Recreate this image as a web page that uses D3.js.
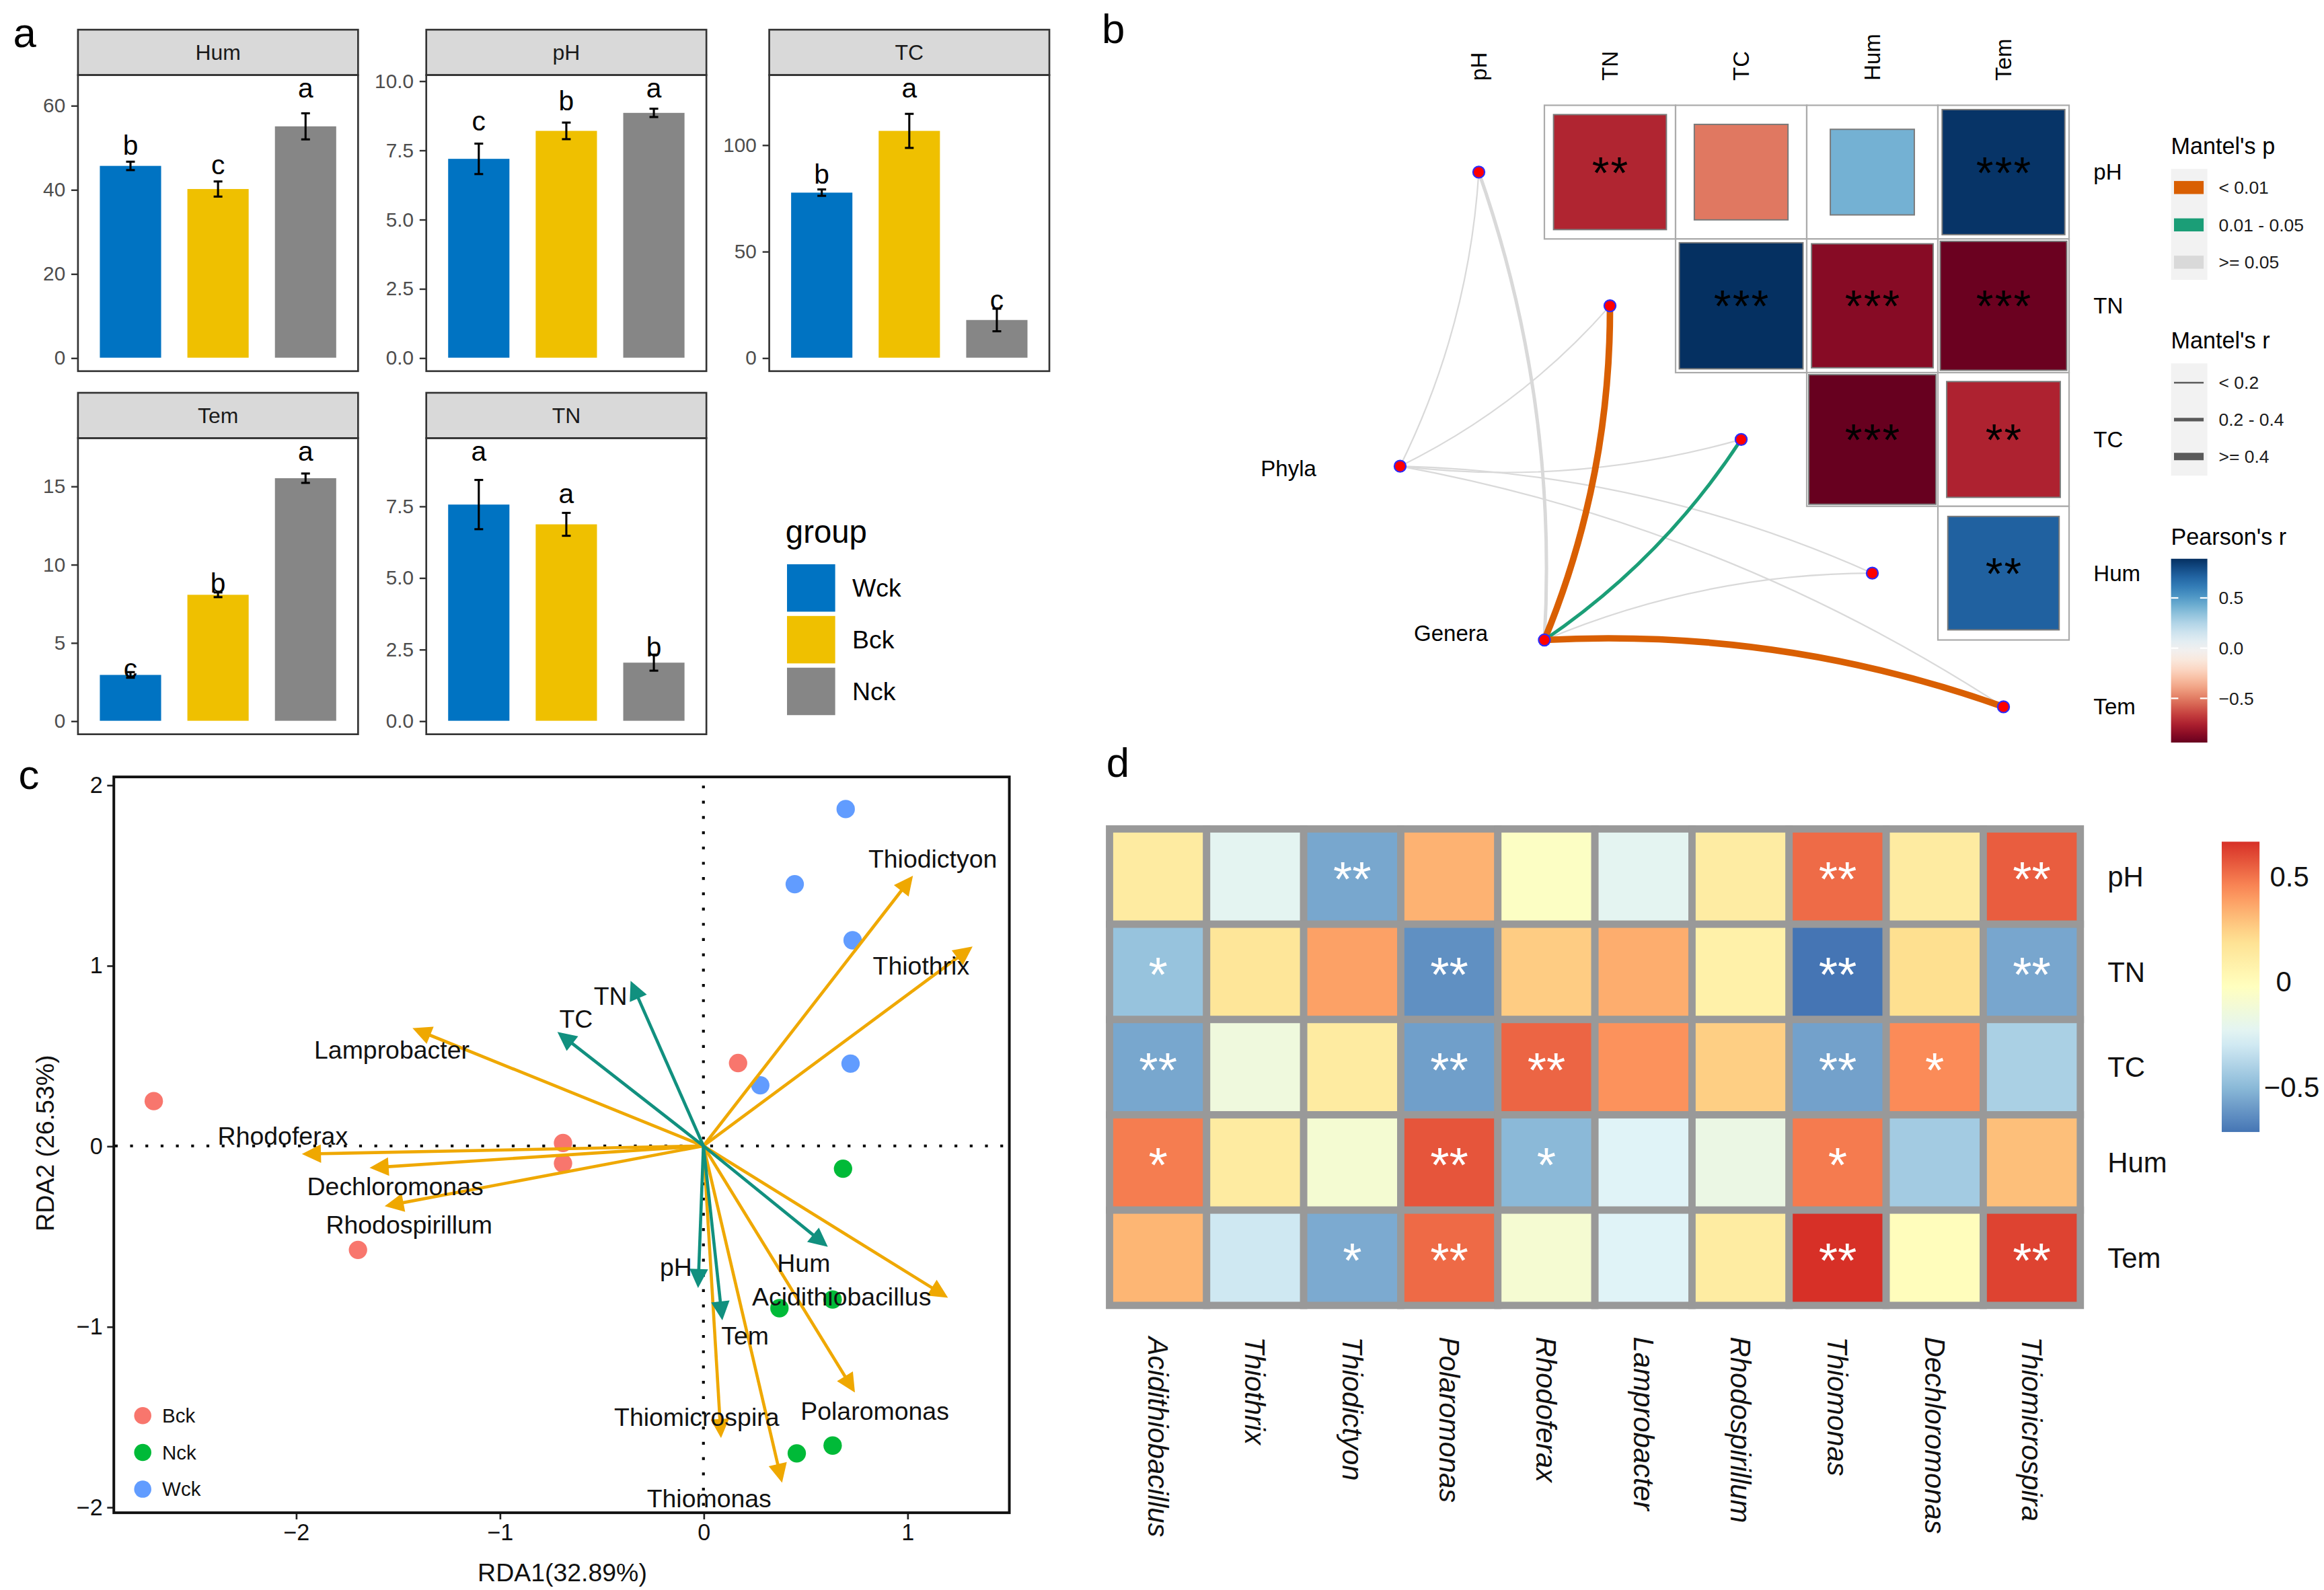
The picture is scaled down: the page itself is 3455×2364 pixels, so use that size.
<!DOCTYPE html>
<html>
<head>
<meta charset="utf-8">
<script src="https://cdn.jsdelivr.net/npm/d3@7"></script>
<style>
  html, body { margin: 0; padding: 0; background: #fff; }
  svg { display: block; font-family: "Liberation Sans", Arial, Helvetica, sans-serif; }
</style>
</head>
<body>
<svg id="fig" width="3455" height="2364" viewBox="0 0 1568 1072.8"></svg>
<script>
// ---------------- data ----------------
// panel a: group means, sd and letters for each soil variable
const groups = ["Wck", "Bck", "Nck"]
const groupColors = ["#0073C2", "#EFC000", "#868686"]
const facetNames = ["Hum", "pH", "TC", "Tem", "TN"]
const humMean = [45.6, 40.1, 55.0], humSd = [1.0, 1.8, 3.1], humLetter = ["b", "c", "a"], humLetterY = [48.3, 43.6, 61.8]
const phMean = [7.18, 8.19, 8.84], phSd = [0.55, 0.3, 0.15], phLetter = ["c", "b", "a"], phLetterY = [8.2, 8.94, 9.4]
const tcMean = [77.5, 106.5, 17.7], tcSd = [1.5, 8.0, 5.3], tcLetter = ["b", "a", "c"], tcLetterY = [81.6, 122.2, 22.8]
const temMean = [2.93, 8.05, 15.5], temSd = [0.18, 0.15, 0.3], temLetter = ["c", "b", "a"], temLetterY = [2.75, 8.2, 16.6]
const tnMean = [7.55, 6.86, 2.03], tnSd = [0.86, 0.4, 0.28], tnLetter = ["a", "a", "b"], tnLetterY = [9.07, 7.6, 2.25]
const facetTicks = [[0, 20, 40, 60], [0, 2.5, 5, 7.5, 10], [0, 50, 100], [0, 5, 10, 15], [0, 2.5, 5, 7.5]]
const facetTop = [64, 9.72, 126.4, 17.2, 9.4]

// panel b: pearson correlations between env variables + mantel links
const envVars = ["pH", "TN", "TC", "Hum", "Tem"]
const corrRow = ["pH", "pH", "pH", "pH", "TN", "TN", "TN", "TC", "TC", "Hum"]
const corrCol = ["TN", "TC", "Hum", "Tem", "TC", "Hum", "Tem", "Hum", "Tem", "Tem"]
const corrR = [-0.74, -0.51, 0.41, 0.875, 0.89, -0.86, -0.93, -0.94, -0.75, 0.72]
const corrStars = ["**", "", "", "***", "***", "***", "***", "***", "**", "**"]
const specNames = ["Phyla", "Genera"]
const specGridX = [-0.1, 1.0]
const specGridY = [2.7, 4.0]
const linkSpec = ["Phyla", "Phyla", "Phyla", "Phyla", "Phyla", "Genera", "Genera", "Genera", "Genera", "Genera"]
const linkEnv = ["pH", "TN", "TC", "Hum", "Tem", "pH", "TN", "TC", "Hum", "Tem"]
const linkR = ["< 0.2", "< 0.2", "< 0.2", "< 0.2", "< 0.2", "0.2 - 0.4", ">= 0.4", "0.2 - 0.4", "< 0.2", ">= 0.4"]
const linkP = [">= 0.05", ">= 0.05", ">= 0.05", ">= 0.05", ">= 0.05", ">= 0.05", "< 0.01", "0.01 - 0.05", ">= 0.05", "< 0.01"]
const linkBend = [1, 1, 1, -1, -1, 1, 1, 1, -1, -1]
const pLevels = ["< 0.01", "0.01 - 0.05", ">= 0.05"]
const rLevels = ["< 0.2", "0.2 - 0.4", ">= 0.4"]

// panel c: RDA scores
const bckRDA1 = [-2.697, -0.689, -0.689, -1.695, 0.170], bckRDA2 = [0.248, 0.016, -0.097, -0.576, 0.459]
const nckRDA1 = [0.685, 0.634, 0.373, 0.458, 0.634], nckRDA2 = [-0.126, -0.851, -0.899, -1.703, -1.660]
const wckRDA1 = [0.698, 0.448, 0.732, 0.722, 0.279], wckRDA2 = [1.866, 1.450, 1.139, 0.456, 0.336]
const species = ["Thiodictyon", "Thiothrix", "Lamprobacter", "Rhodoferax", "Dechloromonas", "Rhodospirillum", "Acidithiobacillus", "Polaromonas", "Thiomicrospira", "Thiomonas"]
const speciesRDA1 = [1.023, 1.314, -1.420, -1.962, -1.630, -1.556, 1.193, 0.739, 0.086, 0.384]
const speciesRDA2 = [1.489, 1.099, 0.649, -0.045, -0.121, -0.332, -0.836, -1.358, -1.609, -1.857]
const speciesLabX = [1.125, 1.068, -1.529, -2.064, -1.512, -1.444, 0.678, 0.841, -0.033, 0.028]
const speciesLabY = [1.591, 0.997, 0.534, 0.054, -0.226, -0.438, -0.836, -1.470, -1.503, -1.953]
const envArrows = ["TN", "TC", "Hum", "pH", "Tem"]
const envRDA1 = [-0.354, -0.710, 0.604, -0.026, 0.092]
const envRDA2 = [0.906, 0.626, -0.553, -0.778, -0.957]
const envLabX = [-0.456, -0.625, 0.492, -0.135, 0.204]
const envLabY = [0.831, 0.704, -0.649, -0.673, -1.051]

// panel d: correlation heatmap genera x env
const hmGenera = ["Acidithiobacillus", "Thiothrix", "Thiodictyon", "Polaromonas", "Rhodoferax", "Lamprobacter", "Rhodospirillum", "Thiomonas", "Dechloromonas", "Thiomicrospira"]
const hmEnv = ["pH", "TN", "TC", "Hum", "Tem"]
const hmPH = [0.125, -0.226, -0.559, 0.332, -0.045, -0.226, 0.114, 0.520, 0.125, 0.554]
const hmTN = [-0.465, 0.164, 0.381, -0.630, 0.261, 0.346, 0.082, -0.713, 0.206, -0.560]
const hmTC = [-0.558, -0.144, 0.125, -0.582, 0.534, 0.422, 0.254, -0.575, 0.440, -0.410]
const hmHum = [0.476, 0.125, -0.102, 0.573, -0.502, -0.250, -0.174, 0.480, -0.430, 0.296]
const hmTem = [0.321, -0.302, -0.548, 0.522, -0.100, -0.250, 0.118, 0.665, -0.010, 0.619]
const starPH = ["", "", "**", "", "", "", "", "**", "", "**"]
const starTN = ["*", "", "", "**", "", "", "", "**", "", "**"]
const starTC = ["**", "", "", "**", "**", "", "", "**", "*", ""]
const starHum = ["*", "", "", "**", "*", "", "", "*", "", ""]
const starTem = ["", "", "*", "**", "", "", "", "**", "", "**"]

// ---------------- drawing ----------------
const svg = d3.select("#fig")
const defs = svg.append("defs")
const minus = d => (d < 0 ? "\u2212" + Math.abs(d) : "" + d)

// panel letters
svg.selectAll("text.plab")
  .data([["a", 8.8, 31.7], ["b", 743.4, 28.8], ["c", 12.5, 532.3], ["d", 746.5, 524.2]])
  .enter().append("text")
  .attr("x", d => d[1]).attr("y", d => d[2])
  .attr("font-size", 28).attr("fill", "#000")
  .text(d => d[0])

// ===== panel a =====
const facetLeft = [52.6, 287.6, 519, 52.6, 287.6]
const facetY0 = [50.6, 50.6, 50.6, 295.6, 295.6]
const pw = 189, ph = 199.8, sh = 30.6
const means = [humMean, phMean, tcMean, temMean, tnMean]
const sds = [humSd, phSd, tcSd, temSd, tnSd]
const letters = [humLetter, phLetter, tcLetter, temLetter, tnLetter]
const letterYs = [humLetterY, phLetterY, tcLetterY, temLetterY, tnLetterY]

facetNames.forEach((name, i) => {
  const g = svg.append("g")
  const left = facetLeft[i], top = facetY0[i]
  const x = d3.scalePoint().domain(groups).range([left, left + pw]).padding(0.6)
  const y = d3.scaleLinear().domain([-0.05 * facetTop[i], 1.05 * facetTop[i]]).range([top + ph, top])
  const bw = x.step() * 0.7, cap = x.step() * 0.1
  const rows = groups.map((gname, j) => ({ g: gname, m: means[i][j], s: sds[i][j], l: letters[i][j], ly: letterYs[i][j], c: groupColors[j] }))

  // strip
  g.append("rect").attr("x", left).attr("y", top - sh).attr("width", pw).attr("height", sh)
    .attr("fill", "#D9D9D9").attr("stroke", "#333").attr("stroke-width", 1.2)
  g.append("text").attr("x", left + pw / 2).attr("y", top - sh / 2).attr("dy", "0.35em")
    .attr("text-anchor", "middle").attr("font-size", 14.5).attr("fill", "#1A1A1A").text(name)

  // bars
  g.selectAll("rect.bar").data(rows).enter().append("rect")
    .attr("x", d => x(d.g) - bw / 2).attr("y", d => y(d.m))
    .attr("width", bw).attr("height", d => y(0) - y(d.m))
    .attr("fill", d => d.c)

  // error bars
  const eb = g.selectAll("g.eb").data(rows).enter().append("g")
    .attr("stroke", "#000").attr("stroke-width", 1.4)
  eb.append("line").attr("x1", d => x(d.g)).attr("x2", d => x(d.g)).attr("y1", d => y(d.m - d.s)).attr("y2", d => y(d.m + d.s))
  eb.append("line").attr("x1", d => x(d.g) - cap / 2).attr("x2", d => x(d.g) + cap / 2).attr("y1", d => y(d.m - d.s)).attr("y2", d => y(d.m - d.s))
  eb.append("line").attr("x1", d => x(d.g) - cap / 2).attr("x2", d => x(d.g) + cap / 2).attr("y1", d => y(d.m + d.s)).attr("y2", d => y(d.m + d.s))

  // letters
  g.selectAll("text.let").data(rows).enter().append("text")
    .attr("x", d => x(d.g)).attr("y", d => y(d.ly))
    .attr("text-anchor", "middle").attr("font-size", 18.5).attr("fill", "#000").text(d => d.l)

  // y axis
  const decimals = facetTicks[i].some(t => t % 1 !== 0)
  const ax = g.append("g").attr("transform", `translate(${left},0)`)
    .call(d3.axisLeft(y).tickValues(facetTicks[i]).tickSize(4.5).tickPadding(4)
      .tickFormat(decimals ? d3.format(".1f") : d3.format("d")))
  ax.select(".domain").remove()
  ax.selectAll(".tick line").attr("stroke", "#333").attr("stroke-width", 1.1)
  ax.selectAll(".tick text").attr("fill", "#4D4D4D").attr("font-size", 13.5)
    .attr("font-family", "Liberation Sans, Arial, sans-serif")

  // panel border
  g.append("rect").attr("x", left).attr("y", top).attr("width", pw).attr("height", ph)
    .attr("fill", "none").attr("stroke", "#333").attr("stroke-width", 1.2)
})

// legend a
const legA = svg.append("g")
legA.append("text").attr("x", 530).attr("y", 366).attr("font-size", 21.5).attr("fill", "#000").text("group")
legA.selectAll("rect").data(groups).enter().append("rect")
  .attr("x", 531).attr("y", (d, i) => 380.7 + i * 34.9).attr("width", 32.5).attr("height", 32)
  .attr("fill", (d, i) => groupColors[i])
legA.selectAll("text.lg").data(groups).enter().append("text")
  .attr("x", 575).attr("y", (d, i) => 396.7 + i * 34.9).attr("dy", "0.35em")
  .attr("font-size", 17).attr("fill", "#000").text(d => d)

// ===== panel b =====
const gx = d3.scaleLinear().domain([0, 5]).range([953.5, 1396])
const gy = d3.scaleLinear().domain([0, 5]).range([71, 522])
const cw = gx(1) - gx(0), ch = gy(1) - gy(0)
const ei = v => envVars.indexOf(v)
const rExt = d3.extent(corrR)
// fill gradient stretched over the observed range of r
const rdbu = r => d3.interpolateRdBu((r - rExt[0]) / (rExt[1] - rExt[0]))
const cells = corrR.map((r, i) => ({ row: ei(corrRow[i]), col: ei(corrCol[i]), r: r, star: corrStars[i] }))
const gb = svg.append("g")

gb.selectAll("rect.cell").data(cells).enter().append("rect")
  .attr("x", d => gx(d.col)).attr("y", d => gy(d.row)).attr("width", cw).attr("height", ch)
  .attr("fill", "#fff").attr("stroke", "#ABABAB").attr("stroke-width", 1)
gb.selectAll("rect.sq").data(cells).enter().append("rect")
  .attr("x", d => gx(d.col) + cw * (1 - Math.sqrt(Math.abs(d.r))) / 2)
  .attr("y", d => gy(d.row) + ch * (1 - Math.sqrt(Math.abs(d.r))) / 2)
  .attr("width", d => cw * Math.sqrt(Math.abs(d.r)))
  .attr("height", d => ch * Math.sqrt(Math.abs(d.r)))
  .attr("fill", d => rdbu(d.r)).attr("stroke", "#7A7A7A").attr("stroke-width", 0.9)
gb.selectAll("text.st").data(cells).enter().append("text")
  .attr("x", d => gx(d.col + 0.5) + 0.5).attr("y", d => gy(d.row + 0.5)).attr("dy", "0.36em")
  .attr("text-anchor", "middle").attr("font-size", 30).attr("letter-spacing", 1)
  .attr("fill", "#000").text(d => d.star)

// mantel links
const pColor = d3.scaleOrdinal().domain(pLevels).range(["#D95F02", "#1B9E77", "#D9D9D9"])
const rWidth = d3.scaleOrdinal().domain(rLevels).range([1.0, 2.3, 4.4])
const nodeEnv = envVars.map((v, i) => ({ name: v, x: gx(i + 0.5), y: gy(i + 0.5) }))
const nodeSpec = specNames.map((s, i) => ({ name: s, x: gx(specGridX[i]), y: gy(specGridY[i]) }))
const links = linkSpec.map((s, i) => ({
  s: nodeSpec[specNames.indexOf(s)], e: nodeEnv[ei(linkEnv[i])],
  p: linkP[i], r: linkR[i], bend: linkBend[i]
}))
links.sort((a, b) => (b.p === ">= 0.05") - (a.p === ">= 0.05"))

function curvePath(x1, y1, x2, y2, bend) {
  const dx = x2 - x1, dy = y2 - y1, L = Math.hypot(dx, dy)
  const nx = -dy / L, ny = dx / L, k = bend * 0.1 * L
  return `M${x1},${y1}Q${(x1 + x2) / 2 + nx * k},${(y1 + y2) / 2 + ny * k} ${x2},${y2}`
}
gb.selectAll("path.link").data(links).enter().append("path")
  .attr("d", d => curvePath(d.s.x, d.s.y, d.e.x, d.e.y, d.bend))
  .attr("fill", "none").attr("stroke", d => pColor(d.p)).attr("stroke-width", d => rWidth(d.r))
  .attr("stroke-linecap", "round")

gb.selectAll("circle.node").data(nodeEnv.concat(nodeSpec)).enter().append("circle")
  .attr("cx", d => d.x).attr("cy", d => d.y).attr("r", 3.9)
  .attr("fill", "#FF0000").attr("stroke", "#2B2BFF").attr("stroke-width", 1)

// spec labels
const specLabDx = [-56.5, -38], specLabDy = [1.7, -4.6]
gb.selectAll("text.spec").data(nodeSpec).enter().append("text")
  .attr("x", (d, i) => d.x + specLabDx[i]).attr("y", (d, i) => d.y + specLabDy[i]).attr("dy", "0.35em")
  .attr("text-anchor", "end").attr("font-size", 15).attr("fill", "#000").text(d => d.name)

// axis labels
gb.selectAll("text.top").data(envVars).enter().append("text")
  .attr("transform", (d, i) => `translate(${gx(i + 0.5)},54.4) rotate(-90)`)
  .attr("dy", "0.35em").attr("font-size", 15).attr("fill", "#000").text(d => d)
gb.selectAll("text.right").data(envVars).enter().append("text")
  .attr("x", 1412.5).attr("y", (d, i) => gy(i + 0.5)).attr("dy", "0.35em")
  .attr("font-size", 15).attr("fill", "#000").text(d => d)

// legends b
const lgx = 1464.8
function legendTitle(t, y) {
  gb.append("text").attr("x", lgx).attr("y", y).attr("font-size", 15.5).attr("fill", "#000").text(t)
}
legendTitle("Mantel's p", 103.8)
gb.append("rect").attr("x", lgx).attr("y", 114).attr("width", 24.5).attr("height", 74.8).attr("fill", "#F2F2F2")
pLevels.forEach((p, i) => {
  const yc = 126.5 + i * 25.2
  gb.append("rect").attr("x", lgx + 2).attr("y", yc - 4.4).attr("width", 20).attr("height", 8.8).attr("fill", pColor(p))
  gb.append("text").attr("x", 1497).attr("y", yc).attr("dy", "0.35em").attr("font-size", 12).attr("fill", "#1A1A1A").text(p)
})
legendTitle("Mantel's r", 235.1)
gb.append("rect").attr("x", lgx).attr("y", 245.2).attr("width", 24.5).attr("height", 75.7).attr("fill", "#F2F2F2")
const rLegW = [1.2, 2.4, 5]
rLevels.forEach((r, i) => {
  const yc = 258.2 + i * 24.9
  gb.append("line").attr("x1", lgx + 2).attr("x2", lgx + 22).attr("y1", yc).attr("y2", yc)
    .attr("stroke", "#5A5A5A").attr("stroke-width", rLegW[i])
  gb.append("text").attr("x", 1497).attr("y", yc).attr("dy", "0.35em").attr("font-size", 12).attr("fill", "#1A1A1A").text(r)
})
legendTitle("Pearson's r", 367.4)
const cbY = d3.scaleLinear().domain(rExt).range([501, 377])
const gradB = defs.append("linearGradient").attr("id", "gradB")
  .attr("x1", 0).attr("y1", 1).attr("x2", 0).attr("y2", 0)
gradB.selectAll("stop").data(d3.range(0, 1.0001, 0.05)).enter().append("stop")
  .attr("offset", d => d).attr("stop-color", d => rdbu(rExt[0] + d * (rExt[1] - rExt[0])))
gb.append("rect").attr("x", lgx).attr("y", 377).attr("width", 24.5).attr("height", 124).attr("fill", "url(#gradB)")
const cbTicks = [0.5, 0.0, -0.5]
gb.selectAll("g.cbt").data(cbTicks).enter().append("g").each(function (t) {
  const s = d3.select(this)
  s.append("line").attr("x1", lgx).attr("x2", lgx + 4.9).attr("y1", cbY(t)).attr("y2", cbY(t)).attr("stroke", "#fff").attr("stroke-width", 1)
  s.append("line").attr("x1", lgx + 19.6).attr("x2", lgx + 24.5).attr("y1", cbY(t)).attr("y2", cbY(t)).attr("stroke", "#fff").attr("stroke-width", 1)
  s.append("text").attr("x", 1497).attr("y", cbY(t)).attr("dy", "0.35em").attr("font-size", 12).attr("fill", "#1A1A1A")
    .text(t < 0 ? "\u2212" + d3.format(".1f")(-t) : d3.format(".1f")(t))
})

// ===== panel c =====
const cxs = d3.scaleLinear().domain([-2.893, 1.501]).range([76.8, 681])
const cys = d3.scaleLinear().domain([-2.032, 2.044]).range([1020.7, 524.2])
const gc = svg.append("g")

const dotted = gc.append("g").attr("stroke", "#000").attr("stroke-width", 1.9).attr("stroke-dasharray", "1.9 8.4")
dotted.append("line").attr("x1", cxs(0)).attr("x2", cxs(0)).attr("y1", 1016).attr("y2", 526)
dotted.append("line").attr("x1", 77.5).attr("x2", 679).attr("y1", cys(0)).attr("y2", cys(0))

const samples = []
bckRDA1.forEach((v, i) => samples.push({ g: "Bck", x: v, y: bckRDA2[i] }))
nckRDA1.forEach((v, i) => samples.push({ g: "Nck", x: v, y: nckRDA2[i] }))
wckRDA1.forEach((v, i) => samples.push({ g: "Wck", x: v, y: wckRDA2[i] }))
const sampleColor = d3.scaleOrdinal().domain(["Bck", "Nck", "Wck"]).range(["#F8766D", "#00BA38", "#619CFF"])
gc.selectAll("circle.pt").data(samples).enter().append("circle")
  .attr("cx", d => cxs(d.x)).attr("cy", d => cys(d.y)).attr("r", 6.2).attr("fill", d => sampleColor(d.g))

function arrowHead(x1, y1, x2, y2, len, ang) {
  const a = Math.atan2(y2 - y1, x2 - x1), r = ang * Math.PI / 180
  const p1 = [x2 - len * Math.cos(a - r), y2 - len * Math.sin(a - r)]
  const p2 = [x2 - len * Math.cos(a + r), y2 - len * Math.sin(a + r)]
  return `M${x2},${y2}L${p1[0]},${p1[1]}L${p2[0]},${p2[1]}Z`
}
function drawArrows(xs, ys, color) {
  const data = xs.map((v, i) => ({ x: v, y: ys[i] }))
  const ga = gc.append("g")
  ga.selectAll("line").data(data).enter().append("line")
    .attr("x1", cxs(0)).attr("y1", cys(0))
    .attr("x2", d => { const X = cxs(d.x), Y = cys(d.y), L = Math.hypot(X - cxs(0), Y - cys(0)); return X - (X - cxs(0)) / L * 6 })
    .attr("y2", d => { const X = cxs(d.x), Y = cys(d.y), L = Math.hypot(X - cxs(0), Y - cys(0)); return Y - (Y - cys(0)) / L * 6 })
    .attr("stroke", color).attr("stroke-width", 2.1)
  ga.selectAll("path").data(data).enter().append("path")
    .attr("d", d => arrowHead(cxs(0), cys(0), cxs(d.x), cys(d.y), 12.5, 26))
    .attr("fill", color).attr("stroke", color).attr("stroke-width", 1).attr("stroke-linejoin", "miter")
}
drawArrows(speciesRDA1, speciesRDA2, "#EFA800")
drawArrows(envRDA1, envRDA2, "#11907F")

gc.selectAll("text.sp").data(species).enter().append("text")
  .attr("x", (d, i) => cxs(speciesLabX[i])).attr("y", (d, i) => cys(speciesLabY[i])).attr("dy", "0.35em")
  .attr("text-anchor", "middle").attr("font-size", 17).attr("fill", "#111").text(d => d)
gc.selectAll("text.env").data(envArrows).enter().append("text")
  .attr("x", (d, i) => cxs(envLabX[i])).attr("y", (d, i) => cys(envLabY[i])).attr("dy", "0.35em")
  .attr("text-anchor", "middle").attr("font-size", 17).attr("fill", "#111").text(d => d)

// axes c
const axB = gc.append("g").attr("transform", "translate(0,1020.7)")
  .call(d3.axisBottom(cxs).tickValues([-2, -1, 0, 1]).tickSize(4.5).tickPadding(3).tickFormat(minus))
const axL = gc.append("g").attr("transform", "translate(76.8,0)")
  .call(d3.axisLeft(cys).tickValues([-2, -1, 0, 1, 2]).tickSize(4.5).tickPadding(3).tickFormat(minus))
;[axB, axL].forEach(a => {
  a.select(".domain").remove()
  a.selectAll(".tick line").attr("stroke", "#222").attr("stroke-width", 1.2)
  a.selectAll(".tick text").attr("fill", "#111").attr("font-size", 15.5).attr("font-family", "Liberation Sans, Arial, sans-serif")
})
gc.append("rect").attr("x", 76.8).attr("y", 524.2).attr("width", 681 - 76.8).attr("height", 1020.7 - 524.2)
  .attr("fill", "none").attr("stroke", "#111").attr("stroke-width", 1.8)
gc.append("text").attr("x", 379.4).attr("y", 1061).attr("dy", "0.35em").attr("text-anchor", "middle")
  .attr("font-size", 17).attr("fill", "#111").text("RDA1(32.89%)")
gc.append("text").attr("transform", "translate(30.3,771.3) rotate(-90)").attr("dy", "0.35em").attr("text-anchor", "middle")
  .attr("font-size", 17).attr("fill", "#111").text("RDA2 (26.53%)")

// legend c
const legC = ["Bck", "Nck", "Wck"]
gc.selectAll("circle.lg").data(legC).enter().append("circle")
  .attr("cx", 96.3).attr("cy", (d, i) => 955.2 + i * 24.8).attr("r", 5.8).attr("fill", d => sampleColor(d))
gc.selectAll("text.lg").data(legC).enter().append("text")
  .attr("x", 109.4).attr("y", (d, i) => 955.2 + i * 24.8).attr("dy", "0.35em")
  .attr("font-size", 13.4).attr("fill", "#111").text(d => d)

// ===== panel d =====
const hmRows = [hmPH, hmTN, hmTC, hmHum, hmTem]
const hmStars = [starPH, starTN, starTC, starHum, starTem]
const hx = d3.scaleBand().domain(hmGenera).range([748.6, 1403.6])
const hy = d3.scaleBand().domain(hmEnv).range([559.3, 880.8])
const [vmin, vmax] = d3.extent(hmRows.flat())
const hmPalette = ["#4575B4", "#91BFDB", "#E0F3F8", "#FFFFBF", "#FEE090", "#FC8D59", "#D73027"]
const hc = d3.scaleLinear().domain(d3.range(7).map(k => vmin + k * (vmax - vmin) / 6)).range(hmPalette).interpolate(d3.interpolateRgb)
const hmCells = []
hmEnv.forEach((e, r) => hmGenera.forEach((g, c) => hmCells.push({ e, g, v: hmRows[r][c], s: hmStars[r][c] })))
const gd = svg.append("g")
gd.selectAll("rect.hm").data(hmCells).enter().append("rect")
  .attr("x", d => hx(d.g)).attr("y", d => hy(d.e)).attr("width", hx.bandwidth()).attr("height", hy.bandwidth())
  .attr("fill", d => hc(d.v)).attr("stroke", "#999999").attr("stroke-width", 4.9)
gd.selectAll("text.hs").data(hmCells.filter(d => d.s)).enter().append("text")
  .attr("x", d => hx(d.g) + hx.bandwidth() / 2).attr("y", d => hy(d.e) + hy.bandwidth() / 2).attr("dy", "0.4em")
  .attr("text-anchor", "middle").attr("font-size", 33).attr("fill", "#fff").text(d => d.s)
gd.selectAll("text.hr").data(hmEnv).enter().append("text")
  .attr("x", 1422).attr("y", d => hy(d) + hy.bandwidth() / 2).attr("dy", "0.35em")
  .attr("font-size", 19).attr("fill", "#111").text(d => d)
gd.selectAll("text.hc").data(hmGenera).enter().append("text")
  .attr("transform", d => `translate(${hx(d) + hx.bandwidth() / 2},902) rotate(90)`)
  .attr("dy", "0.35em").attr("font-size", 19).attr("font-style", "italic").attr("fill", "#111").text(d => d)

// heatmap colour key
const keyY = d3.scaleLinear().domain([vmin, vmax]).range([763.8, 567.9])
const gradD = defs.append("linearGradient").attr("id", "gradD")
  .attr("x1", 0).attr("y1", 1).attr("x2", 0).attr("y2", 0)
gradD.selectAll("stop").data(d3.range(0, 1.0001, 0.05)).enter().append("stop")
  .attr("offset", d => d).attr("stop-color", d => hc(vmin + d * (vmax - vmin)))
gd.append("rect").attr("x", 1499).attr("y", 567.9).attr("width", 25.5).attr("height", 763.8 - 567.9).attr("fill", "url(#gradD)")
gd.selectAll("text.key").data([0.5, 0, -0.5]).enter().append("text")
  .attr("x", d => (d === 0 ? 1535.5 : d < 0 ? 1527.5 : 1531.5)).attr("y", d => keyY(d)).attr("dy", "0.35em")
  .attr("font-size", 19).attr("fill", "#111").text(d => minus(d))
</script>
</body>
</html>
